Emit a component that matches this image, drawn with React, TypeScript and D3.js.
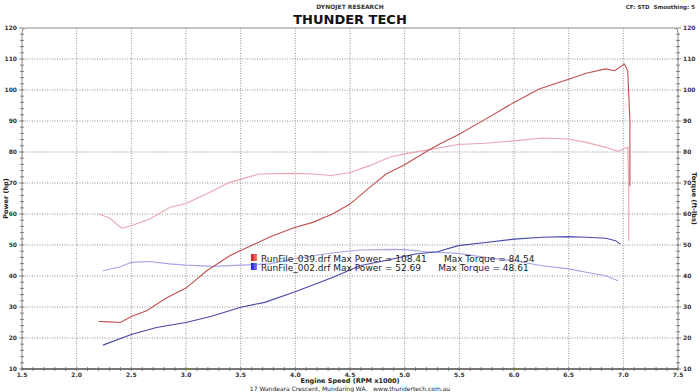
import React from 'react';
import * as d3 from 'd3';

// run 039 (red) - power
const run039PowerRpm = [2.2, 2.3, 2.4, 2.5, 2.64, 2.82, 3.0, 3.19, 3.4, 3.5, 3.67, 3.76, 3.98, 4.16, 4.34, 4.5, 4.68, 4.83, 5.0, 5.23, 5.32, 5.49, 5.74, 6.0, 6.23, 6.5, 6.66, 6.84, 6.92, 7.01, 7.04, 7.06, 7.06];
const run039Power = [25.3, 25.2, 25.0, 26.9, 28.8, 32.9, 36.1, 41.7, 46.5, 48.2, 51.0, 52.5, 55.5, 57.3, 60.0, 63.2, 68.6, 72.9, 75.9, 80.8, 82.6, 85.6, 90.6, 96.0, 100.3, 103.5, 105.4, 106.8, 106.2, 108.4, 106.2, 90.0, 69.0];
// run 039 (red) - torque
const run039TorqueRpm = [2.2, 2.3, 2.41, 2.5, 2.67, 2.85, 3.0, 3.19, 3.4, 3.67, 3.98, 4.16, 4.33, 4.5, 4.68, 4.86, 5.0, 5.2, 5.49, 5.74, 6.0, 6.26, 6.5, 6.66, 6.84, 6.95, 7.0, 7.04, 7.05, 7.05];
const run039Torque = [60.0, 58.7, 55.4, 56.2, 58.4, 62.1, 63.4, 66.5, 70.2, 72.9, 73.1, 72.9, 72.4, 73.4, 75.6, 78.3, 79.4, 80.6, 82.4, 82.8, 83.6, 84.5, 84.2, 83.1, 81.5, 80.2, 81.0, 81.5, 70.0, 51.4];
// run 002 (blue) - power
const run002PowerRpm = [2.24, 2.5, 2.73, 3.0, 3.25, 3.5, 3.72, 3.98, 4.34, 4.59, 4.89, 5.1, 5.3, 5.49, 5.74, 6.0, 6.26, 6.5, 6.66, 6.84, 6.93, 6.97];
const run002Power = [17.7, 21.1, 23.4, 25.0, 27.2, 29.9, 31.5, 34.7, 39.5, 43.3, 45.5, 47.1, 47.8, 49.8, 50.8, 51.9, 52.5, 52.7, 52.5, 52.2, 51.4, 50.3];
// run 002 (blue) - torque
const run002TorqueRpm = [2.24, 2.4, 2.5, 2.67, 2.85, 3.0, 3.25, 3.5, 3.76, 4.0, 4.25, 4.43, 4.59, 4.89, 5.0, 5.2, 5.49, 5.74, 6.0, 6.26, 6.5, 6.66, 6.84, 6.95];
const run002Torque = [41.7, 43.0, 44.4, 44.7, 43.9, 43.5, 43.1, 43.5, 43.9, 45.6, 47.0, 47.8, 48.4, 48.6, 48.5, 47.8, 47.3, 46.0, 44.9, 43.3, 42.3, 41.2, 40.1, 38.5];

const xTicks = [1.5, 2.0, 2.5, 3.0, 3.5, 4.0, 4.5, 5.0, 5.5, 6.0, 6.5, 7.0, 7.5];
const yTicks = [10, 20, 30, 40, 50, 60, 70, 80, 90, 100, 110, 120];

const legendRows = [
  { file: 'RunFile_039.drf', power: '108.41', torque: '84.54', c1: '#d01818', c2: '#f08080' },
  { file: 'RunFile_002.drf', power: '52.69', torque: '48.61', c1: '#1818d0', c2: '#8080f0' },
];

const W = 700;
const H = 392;
const FONT = '"DejaVu Sans", Verdana, sans-serif';

export default function App() {
  const x = d3.scaleLinear().domain([1.5, 7.5]).range([22, 678]);
  const y = d3.scaleLinear().domain([10, 120]).range([369, 28]);

  const line = d3.line<[number, number]>().x(d => x(d[0])).y(d => y(d[1]));
  const pts = (r: number[], v: number[]) => r.map((rr, i) => [rr, v[i]] as [number, number]);

  const x0 = x(1.5), x1 = x(7.5), yTop = y(120), yBot = y(10);
  const rad = 4;
  const frame = `M${x0},${yBot} L${x0},${yTop + rad} Q${x0},${yTop} ${x0 + rad},${yTop} L${x1 - rad},${yTop} Q${x1},${yTop} ${x1},${yTop + rad} L${x1},${yBot}`;

  const minorY = d3.range(10, 121, 2);
  const minorX = d3.range(15, 76, 1).map(d => d / 10);

  return (
    <svg width={W} height={H} style={{ position: 'absolute', left: 0, top: 0, background: '#fff' }} fontFamily={FONT}>
      <defs>
        {legendRows.map((r, i) => (
          <linearGradient key={i} id={`sw${i}`} x1="0" x2="1" y1="0" y2="0">
            <stop offset="0" stopColor={r.c1} />
            <stop offset="1" stopColor={r.c2} />
          </linearGradient>
        ))}
      </defs>

      {/* headers */}
      <text x={350} y={9} textAnchor="middle" fontSize={6} fontWeight="bold" fill="#333">DYNOJET RESEARCH</text>
      <text x={695} y={9} textAnchor="end" fontSize={5.5} fontWeight="bold" fill="#333" style={{ whiteSpace: 'pre' }}>CF: STD  Smoothing: 5</text>
      <text x={350} y={24} textAnchor="middle" fontSize={13} fontWeight="bold" fill="#111">THUNDER TECH</text>

      {/* grid */}
      {xTicks.slice(1, -1).map(t => (
        <line key={'gx' + t} x1={x(t)} x2={x(t)} y1={yTop} y2={yBot} stroke="#777" strokeWidth={0.8} strokeDasharray="1,1.5" />
      ))}
      {yTicks.slice(1, -1).map(t => (
        <line key={'gy' + t} x1={x0} x2={x1} y1={y(t)} y2={y(t)} stroke="#777" strokeWidth={0.8} strokeDasharray="1,1.5" />
      ))}

      {/* frame */}
      <path d={frame} fill="none" stroke="#888" strokeWidth={1} />
      <line x1={x0} x2={x1} y1={yBot} y2={yBot} stroke="#777" strokeWidth={2} />
      {minorX.map(t => (
        <line key={'mx' + t} x1={x(t)} x2={x(t)} y1={yBot - 2} y2={yBot + 2} stroke="#666" strokeWidth={0.8} />
      ))}
      {minorY.map(t => (
        <g key={'my' + t}>
          <line x1={x0 - (t % 10 === 0 ? 3 : 2)} x2={x0 + 2} y1={y(t)} y2={y(t)} stroke="#666" strokeWidth={0.8} />
          <line x1={x1 - 2} x2={x1 + (t % 10 === 0 ? 3 : 2)} y1={y(t)} y2={y(t)} stroke="#666" strokeWidth={0.8} />
        </g>
      ))}

      {/* tick labels */}
      {yTicks.map(t => (
        <g key={'ly' + t} fontSize={6} fontWeight="bold" fill="#333">
          <text x={x0 - 5} y={y(t) + 2} textAnchor="end">{t}</text>
          <text x={x1 + 5} y={y(t) + 2} textAnchor="start">{t}</text>
        </g>
      ))}
      {xTicks.map(t => (
        <text key={'lx' + t} x={x(t)} y={yBot + 8} textAnchor="middle" fontSize={6} fontWeight="bold" fill="#333">{t.toFixed(1)}</text>
      ))}

      {/* axis titles */}
      <text transform={`translate(8,${(yTop + yBot) / 2}) rotate(-90)`} textAnchor="middle" fontSize={6.5} fontWeight="bold" fill="#222">Power (hp)</text>
      <text transform={`translate(692,${(yTop + yBot) / 2}) rotate(90)`} textAnchor="middle" fontSize={6.5} fontWeight="bold" fill="#222">Torque (ft-lbs)</text>
      <text x={350} y={383} textAnchor="middle" fontSize={6.5} fontWeight="bold" fill="#222">Engine Speed (RPM x1000)</text>
      <text x={350} y={391} textAnchor="middle" fontSize={6} fill="#222" style={{ whiteSpace: 'pre' }}>17 Wandeara Crescent, Mundaring WA.   www.thundertech.com.au</text>

      {/* curves */}
      <path d={line(pts(run039TorqueRpm, run039Torque)) || ''} fill="none" stroke="#eaa4ae" strokeWidth={1.1} />
      <path d={line(pts(run002TorqueRpm, run002Torque)) || ''} fill="none" stroke="#a4a4e6" strokeWidth={1.1} />
      <path d={line(pts(run039PowerRpm, run039Power)) || ''} fill="none" stroke="#c0504f" strokeWidth={1.1} />
      <path d={line(pts(run002PowerRpm, run002Power)) || ''} fill="none" stroke="#4848a8" strokeWidth={1.1} />

      {/* legend */}
      {legendRows.map((r, i) => (
        <g key={'lg' + i}>
          <rect x={251} y={254 + i * 9} width={6} height={7} fill={`url(#sw${i})`} />
          <text x={261} y={262 + i * 9} fontSize={9} fill="#222" style={{ whiteSpace: 'pre' }}>
            {`${r.file} Max Power = ${r.power}      Max Torque = ${r.torque}`}
          </text>
        </g>
      ))}
    </svg>
  );
}
